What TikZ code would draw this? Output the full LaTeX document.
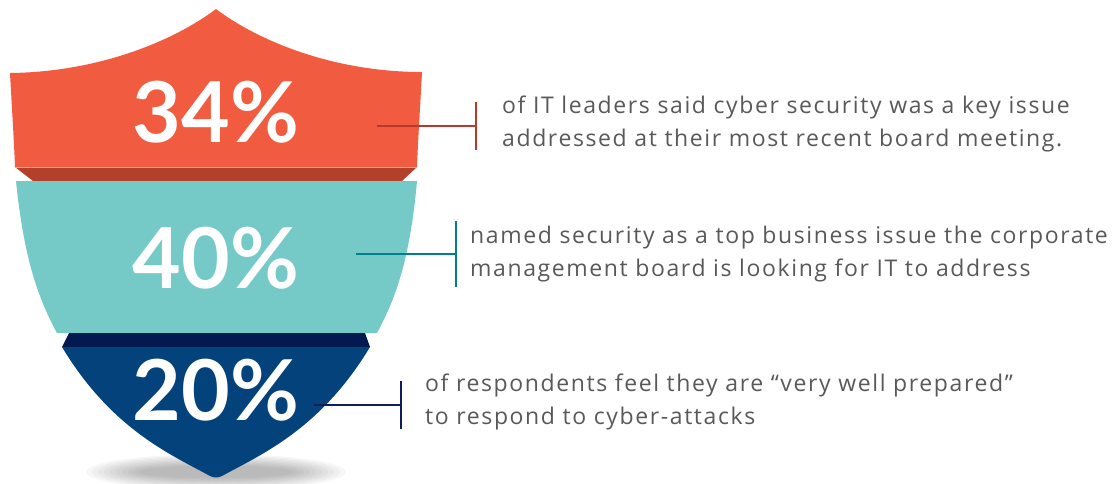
\documentclass[tikz,border=0pt]{standalone}
\usepackage{fontspec}
\setmainfont{Lato}
\newfontfamily\bodyfont[LetterSpace=7]{Open Sans}
\definecolor{redface}{HTML}{F15B40}
\definecolor{redband}{HTML}{B3402A}
\definecolor{redline}{HTML}{B8392A}
\definecolor{tealface}{HTML}{75CAC7}
\definecolor{tealline}{HTML}{00808A}
\definecolor{navyface}{HTML}{03427A}
\definecolor{navyband}{HTML}{021A50}
\definecolor{navyline}{HTML}{0C1F5C}
\definecolor{txtgray}{HTML}{58595B}
\begin{document}
\begin{tikzpicture}[x=1pt,y=-1pt,
  pct/.style={anchor=base,inner sep=0pt,text=white,font=\fontsize{84}{84}\selectfont\bfseries},
  info/.style={anchor=west,inner sep=0pt,align=left,text=txtgray,font=\bodyfont\fontsize{23}{33}\selectfont},
  tick/.style={line width=1.8pt}]
\useasboundingbox (0,0) rectangle (1117,483);
% shadow under the shield
\foreach \i in {1,...,10} \fill[black,opacity=0.03] (216,472) ellipse ({70+6*\i} and {5+1.3*\i});
% red top part
\fill[redface] (10,73) .. controls (100,72) and (175,40) .. (216,9) .. controls (257,40) and (332,72) .. (422,72)
  .. controls (420,110) and (418,140) .. (417,167) -- (15,167) .. controls (14,140) and (12,110) .. (10,73) -- cycle;
\fill[redband] (15,167) -- (417,167) -- (402,181) -- (33,181) -- cycle;
\draw[redface!60!white,line width=0.6pt] (15,167) -- (417,167);
% teal middle part
\fill[tealface] (16,181) -- (417,181) .. controls (410,260) and (395,300) .. (377,333) -- (57,333) .. controls (39,300) and (24,260) .. (16,181) -- cycle;
% navy bottom part
\fill[navyband] (69,333) -- (365,333) -- (370,347) -- (62,347) -- cycle;
\fill[navyface] (62,347) -- (370,347) .. controls (320,430) and (260,455) .. (222,476) .. controls (218,478) and (214,478) .. (210,476)
  .. controls (172,455) and (112,430) .. (62,347) -- cycle;
% figures
\node (p34) at (216,142) [pct] {34\%};
\node (p40) at (216,288) [pct] {40\%};
\node (p20) at (216,420) [pct] {20\%};
% texts
\node (t34) at (502,124) [info] {of IT leaders said cyber security was a key issue\\addressed at their most recent board meeting.};
\node (t40) at (470,254) [info] {named security as a top business issue the corporate\\management board is looking for IT to address};
\node (t20) at (425,402) [info] {of respondents feel they are “very well prepared”\\to respond to cyber-attacks};
% connectors
\coordinate (c34) at (377,126); \coordinate (b34) at (476,126);
\coordinate (c40) at (356,254); \coordinate (b40) at (456,254);
\coordinate (c20) at (314,405); \coordinate (b20) at (401,405);
\draw[tick,redline] (c34) -- (b34); \draw[tick,redline] (b34) ++(0,-24) -- ++(0,48);
\draw[tick,tealline] (c40) -- (b40); \draw[tick,tealline] (b40) ++(0,-33) -- ++(0,66);
\draw[tick,navyline] (c20) -- (b20); \draw[tick,navyline] (b20) ++(0,-24) -- ++(0,48);
\end{tikzpicture}
\end{document}
